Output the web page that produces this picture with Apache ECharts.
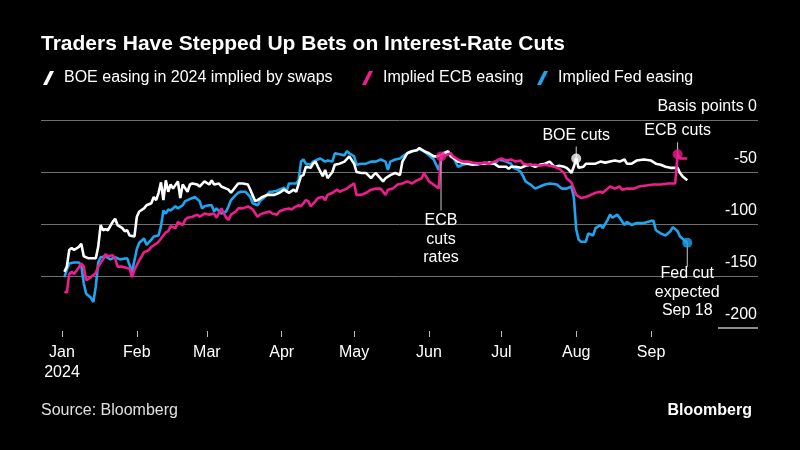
<!DOCTYPE html>
<html>
<head>
<meta charset="utf-8">
<script src="https://cdn.jsdelivr.net/npm/echarts@6/dist/echarts.min.js"></script>
<style>
html,body{margin:0;padding:0;background:#000;}
#c{width:800px;height:450px;}
</style>
</head>
<body>
<div id="c"></div>
<script>
// ---------- DATA (2024, month-day) ----------
const boeDates = ['01-02','01-03','01-04','01-05','01-06','01-08','01-09','01-10','01-12','01-15','01-16','01-17','01-18','01-19','01-20','01-22','01-23','01-24','01-26','01-27','01-28','01-29','01-31',
'02-01','02-02','02-04','02-05','02-07','02-08','02-09','02-10','02-11','02-12','02-13','02-14','02-15','02-16','02-18','02-19','02-20','02-22','02-23','02-24','02-26','02-27','02-29',
'03-02','03-03','03-04','03-06','03-07','03-09','03-10','03-11','03-13','03-14','03-16','03-18','03-19','03-21','03-22','03-24','03-26','03-27','03-29','03-31',
'04-02','04-04','04-06','04-07','04-09','04-10','04-11','04-13','04-14','04-15','04-16','04-18','04-19','04-20','04-22','04-23','04-25','04-27','04-29',
'05-01','05-02','05-04','05-06','05-08','05-09','05-10','05-13','05-14','05-16','05-18','05-20','05-21','05-23','05-25','05-27','05-28','05-30',
'06-01','06-03','06-04','06-06','06-07','06-09','06-10','06-12','06-13','06-15','06-17','06-19','06-22','06-24','06-26','06-28','06-30',
'07-03','07-04','07-05','07-07','07-09','07-11','07-13','07-15','07-17','07-19','07-21','07-23','07-25','07-27','07-28','07-29','07-30','07-31',
'08-01','08-02','08-04','08-05','08-07','08-09','08-11','08-13','08-15','08-17','08-19','08-21','08-22','08-24','08-26','08-29',
'09-01','09-03','09-05','09-07','09-09','09-10','09-12','09-13','09-14','09-16'];
const boeValues = [-146,-141,-125,-123,-125,-122,-119,-131,-133,-133,-122,-101,-106,-105,-106,-98,-95,-101,-104,-107,-106,-111,-112,
-93,-88,-85,-82,-80,-74,-77,-70,-60,-77,-58,-69,-62,-66,-59,-75,-62,-69,-62,-61,-62,-64,-59,
-62,-58,-62,-61,-64,-66,-67,-70,-64,-61,-61,-62,-67,-78,-77,-74,-72,-72,-72,-70,
-67,-70,-67,-69,-54,-53,-45,-46,-42,-40,-45,-54,-48,-56,-50,-43,-42,-40,-35,
-42,-50,-51,-51,-56,-53,-51,-59,-56,-53,-51,-53,-40,-32,-30,-29,-27,-30,
-32,-35,-35,-34,-32,-30,-35,-38,-40,-41,-42,-43,-42,-42,-41,-42,-45,
-45,-47,-45,-45,-46,-44,-43,-45,-43,-42,-40,-45,-44,-45,-46,-48,-51,-45,
-37,-46,-45,-42,-42,-42,-40,-41,-40,-39,-40,-38,-42,-42,-39,-38,
-39,-42,-43,-45,-46,-46,-46,-51,-54,-58];

const ecbDates = ['01-02','01-03','01-04','01-05','01-06','01-07','01-09','01-10','01-11','01-13','01-15','01-16','01-18','01-19','01-20','01-22','01-23','01-24','01-26','01-29','01-30','01-31',
'02-02','02-03','02-04','02-06','02-07','02-09','02-10','02-11','02-13','02-14','02-15','02-17','02-18','02-20','02-21','02-22','02-24','02-26','02-27','02-29',
'03-02','03-04','03-05','03-07','03-09','03-10','03-11','03-13','03-14','03-16','03-18','03-20','03-22','03-23','03-24','03-27','03-28','03-30','03-31',
'04-02','04-04','04-05','04-07','04-08','04-09','04-11','04-12','04-13','04-15','04-16','04-18','04-19','04-20','04-22','04-24','04-25','04-27','04-28','04-29',
'05-01','05-02','05-04','05-06','05-08','05-10','05-12','05-14','05-15','05-17','05-19','05-21','05-23','05-25','05-27','05-29','05-30',
'06-01','06-04','06-05','06-06','06-08','06-10','06-11','06-13','06-15','06-17','06-19','06-22','06-24','06-26','06-28','06-30',
'07-01','07-03','07-05','07-07','07-09','07-10','07-12','07-15','07-17','07-19','07-21','07-23','07-25','07-27','07-28','07-30','07-31',
'08-01','08-03','08-05','08-07','08-09','08-11','08-12','08-14','08-15','08-17','08-19','08-20','08-22','08-25','08-27','08-30',
'09-02','09-05','09-08','09-10','09-11','09-12','09-13','09-16'];
const ecbValues = [-165,-166,-148,-146,-148,-145,-138,-141,-154,-151,-147,-141,-134,-129,-131,-130,-133,-141,-141,-143,-151,-144,
-135,-131,-127,-125,-122,-119,-117,-114,-108,-107,-102,-104,-98,-101,-96,-94,-93,-91,-93,-90,
-91,-90,-94,-85,-94,-96,-91,-88,-85,-85,-83,-86,-93,-91,-90,-88,-90,-91,-88,
-86,-85,-86,-83,-82,-83,-77,-78,-83,-78,-75,-74,-77,-72,-70,-67,-69,-67,-66,-64,
-61,-72,-72,-70,-67,-66,-66,-72,-67,-66,-62,-61,-59,-61,-58,-56,-51,
-59,-64,-66,-35,-34,-32,-35,-38,-40,-40,-41,-42,-41,-42,-40,-38,
-37,-39,-38,-40,-39,-42,-43,-43,-44,-43,-44,-45,-47,-51,-56,-60,-66,
-72,-75,-74,-72,-70,-69,-70,-66,-64,-66,-64,-67,-66,-66,-64,-63,
-62,-62,-61,-61,-61,-33,-37,-37];

const fedDates = ['01-02','01-03','01-04','01-06','01-08','01-09','01-10','01-11','01-13','01-14','01-15','01-16','01-17','01-19','01-21','01-23','01-25','01-28','01-30','01-31',
'02-01','02-02','02-04','02-05','02-07','02-08','02-10','02-11','02-12','02-13','02-14','02-15','02-17','02-18','02-20','02-21','02-22','02-24','02-25','02-27','02-28','02-29',
'03-02','03-03','03-04','03-05','03-07','03-09','03-10','03-11','03-13','03-14','03-15','03-17','03-19','03-20','03-22','03-23','03-24','03-26','03-27','03-28','03-30','03-31',
'04-02','04-03','04-04','04-07','04-08','04-09','04-10','04-11','04-13','04-14','04-16','04-17','04-19','04-20','04-22','04-23','04-25','04-27','04-28','04-29',
'05-01','05-02','05-04','05-06','05-08','05-10','05-12','05-14','05-15','05-16','05-18','05-20','05-21','05-23','05-25','05-27','05-28','05-30',
'06-01','06-03','06-05','06-06','06-08','06-10','06-12','06-13','06-15','06-17','06-19','06-21','06-24','06-26','06-28','06-30',
'07-03','07-05','07-06','07-08','07-09','07-10','07-11','07-13','07-15','07-17','07-19','07-21','07-24','07-26','07-28','07-30','07-31',
'08-01','08-02','08-03','08-05','08-06','08-08','08-09','08-11','08-12','08-14','08-15','08-16','08-18','08-19','08-21','08-22','08-24','08-26','08-29',
'09-01','09-02','09-03','09-05','09-07','09-09','09-10','09-12','09-13','09-16'];
const fedValues = [-151,-144,-138,-137,-137,-140,-157,-167,-171,-175,-160,-137,-132,-131,-134,-132,-134,-133,-146,-135,
-124,-118,-114,-120,-115,-112,-111,-102,-87,-90,-86,-87,-83,-85,-82,-78,-77,-75,-74,-78,-85,-83,
-82,-82,-88,-85,-90,-88,-83,-77,-72,-70,-69,-69,-74,-80,-82,-78,-76,-72,-69,-69,-68,-67,
-65,-69,-61,-61,-58,-40,-38,-42,-43,-40,-38,-37,-40,-39,-40,-32,-33,-34,-30,-32,
-35,-43,-42,-42,-40,-40,-38,-40,-48,-40,-38,-37,-35,-32,-30,-29,-28,-30,
-34,-38,-48,-38,-32,-32,-40,-45,-43,-42,-42,-43,-41,-42,-42,-38,
-40,-42,-46,-48,-50,-54,-59,-62,-66,-64,-62,-61,-62,-66,-66,-64,-74,
-105,-115,-117,-117,-109,-111,-104,-101,-104,-96,-91,-94,-91,-94,-101,-98,-101,-99,-99,
-97,-97,-106,-109,-111,-107,-103,-107,-112,-118];

// annotations
const annoDates  = ['06-06','08-01','09-12','09-16'];
const annoValues = [-35, -37, -33, -118];
const annoTexts  = ['ECB\ncuts\nrates', 'BOE cuts', 'ECB cuts', 'Fed cut\nexpected\nSep 18'];

// axes
const monthTicks  = ['01-01','02-01','03-01','04-01','05-01','06-01','07-01','08-01','09-01'];
const monthLabels = ['Jan','Feb','Mar','Apr','May','Jun','Jul','Aug','Sep'];
const yearLabel = '2024';
const yTicks = [0,-50,-100,-150,-200];

const seriesNames = ['BOE easing in 2024 implied by swaps','Implied ECB easing','Implied Fed easing'];

// ---------- BUILD ----------
const WHITE = '#ffffff', PINK = '#ee1c8c', BLUE = '#1fa5ef';
const FONT = '"Liberation Sans", Arial, sans-serif';
const t = s => { const [m,d] = s.split('-').map(Number); return Date.UTC(2024, m-1, d); };
const pair = (ds, vs) => ds.map((d,i) => [t(d), vs[i]]);
const DAY = 864e5;
const xMin = t('01-01') - 8.7*DAY, xMax = t('01-01') + 288.3*DAY;
const tickVals = monthTicks.map(t);

const chart = echarts.init(document.getElementById('c'), null, {renderer:'canvas', width:800, height:450});
const slash = 'path://M7,0 L11,0 L4,14 L0,14 Z';
const legendBase = {top:69, itemWidth:11, itemHeight:14, padding:0, selectedMode:false,
  textStyle:{color:'#fff', fontSize:16, fontFamily:FONT, lineHeight:18, padding:[0,0,0,5]}};

function lineSeries(name, color, data, z){
  return {name, type:'line', data, color, showSymbol:false, symbol:'none', z,
    lineStyle:{color, width:2.6}, itemStyle:{color}, animation:false};
}

chart.setOption({
  backgroundColor:'#000',
  animation:false,
  title:[
    {text:'Traders Have Stepped Up Bets on Interest-Rate Cuts', left:41, top:31, padding:0,
     textStyle:{color:'#fff', fontSize:21, fontWeight:'bold', fontFamily:FONT, lineHeight:26}},
    {text:'Source: Bloomberg', left:41, top:401, padding:0,
     textStyle:{color:'#e0e0e0', fontSize:16, fontWeight:'normal', fontFamily:FONT, lineHeight:20}},
    {text:'Bloomberg', right:48, top:401, padding:0,
     textStyle:{color:'#fff', fontSize:16, fontWeight:'bold', fontFamily:FONT, lineHeight:20}}
  ],
  legend:[
    Object.assign({}, legendBase, {left:43, data:[{name:seriesNames[0], icon:slash}]}),
    Object.assign({}, legendBase, {left:362, data:[{name:seriesNames[1], icon:slash}]}),
    Object.assign({}, legendBase, {left:537, data:[{name:seriesNames[2], icon:slash}]})
  ],
  grid:{left:41, right:42, top:120, bottom:122, containLabel:false},
  xAxis:{type:'value', min:xMin, max:xMax, offset:3, scale:true,
    axisLine:{show:false, onZero:false},
    axisTick:{show:true, length:6, customValues:tickVals, lineStyle:{color:'#bbbbbb', width:1}},
    axisLabel:{customValues:tickVals, color:'#fff', fontSize:16, fontFamily:FONT, margin:12, lineHeight:20,
      formatter: v => { const i = tickVals.indexOf(v); const lab = monthLabels[i] || ''; return i === 0 ? lab + '\n' + yearLabel : lab; }},
    splitLine:{show:false}},
  yAxis:{type:'value', position:'right', min:-200, max:0, interval:50,
    axisLine:{show:false}, axisTick:{show:false},
    axisLabel:{inside:true, margin:1, verticalAlign:'bottom', padding:[0,0,5,0], color:'#fff', fontSize:16, fontFamily:FONT,
      formatter: v => v === yTicks[0] ? 'Basis points ' + v : String(v)},
    splitLine:{show:true, lineStyle:{color:['rgba(0,0,0,0)','#6f6f6f','#6f6f6f','#6f6f6f','#6f6f6f'], width:1}}},
  series:[
    lineSeries(seriesNames[2], BLUE, pair(fedDates, fedValues), 2),
    lineSeries(seriesNames[0], WHITE, pair(boeDates, boeValues), 3),
    lineSeries(seriesNames[1], PINK, pair(ecbDates, ecbValues), 4),
    {name:'annotations', type:'scatter', z:10, symbolSize:10, animation:false,
     data: annoDates.map((d,i) => ({value:[t(d), annoValues[i]],
        itemStyle:{color:[PINK, WHITE, PINK, BLUE][i]}}))}
  ]
});

// annotation stems & texts (pixel offsets from the data points)
const stemLen = [54, 12, 12, 24];
const stemDir = [1, -1, -1, 1];
const graphics = [];
annoDates.forEach((d,i) => {
  const p = chart.convertToPixel({gridIndex:0}, [t(d), annoValues[i]]);
  const y2 = p[1] + stemDir[i]*stemLen[i];
  graphics.push({type:'line', z:5, silent:true,
    shape:{x1:p[0], y1:p[1], x2:p[0], y2:y2},
    style:{stroke:'#cccccc', lineWidth:1}});
  graphics.push({type:'text', z:6, silent:true, x:p[0], y: stemDir[i] > 0 ? y2 + (i===3 ? -2 : 1) : y2 - 2,
    style:{text:annoTexts[i], fill:'#fff', fontSize:16, fontFamily:FONT, lineHeight:18.5,
      align:'center', verticalAlign: stemDir[i] > 0 ? 'top' : 'bottom'}});
});
// short baseline segment under the bottom (-200) label
const pB = chart.convertToPixel({gridIndex:0}, [xMax, yTicks[4]]);
graphics.push({type:'line', silent:true, shape:{x1:pB[0]-40, y1:pB[1], x2:pB[0], y2:pB[1]},
  style:{stroke:'#bbbbbb', lineWidth:1.5}});
chart.setOption({graphic:graphics});
</script>
</body>
</html>
